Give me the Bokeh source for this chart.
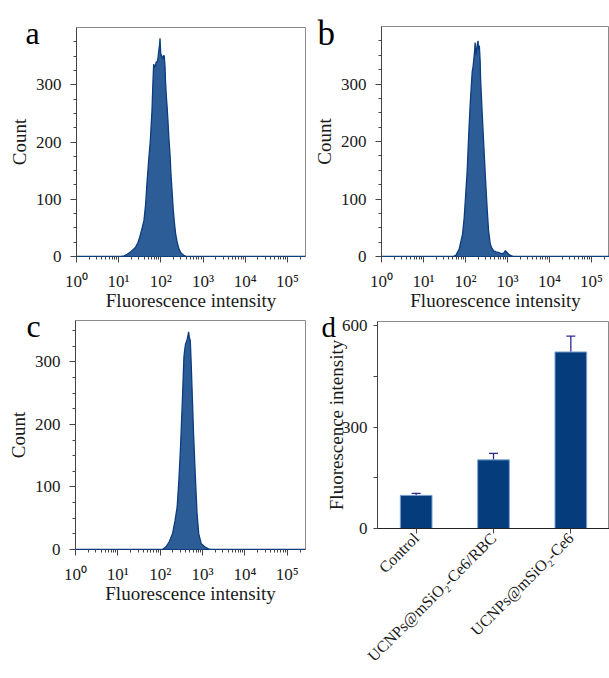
import numpy as np
from bokeh.plotting import figure
from bokeh.layouts import row, column
from bokeh.models import (FixedTicker, CustomJSTickFormatter, Label, Range1d,
                          FactorRange, Whisker, TeeHead, ColumnDataSource, GridBox)
from bokeh.embed import file_html
from bokeh.resources import INLINE

# ---------------- data ----------------
# histogram a (log10 fluorescence intensity, count)
a_log = [0.0, 1.05, 1.13, 1.20, 1.28, 1.34, 1.40, 1.46, 1.50, 1.54, 1.56, 1.60, 1.64, 1.67, 1.71,
         1.75, 1.79, 1.81, 1.83, 1.85, 1.87, 1.89, 1.91, 1.93, 1.95, 1.97, 1.98, 2.00, 2.01, 2.03,
         2.04, 2.06, 2.08, 2.10, 2.11, 2.13, 2.15, 2.17, 2.19, 2.22, 2.24, 2.27, 2.29, 2.32, 2.35,
         2.39, 2.43, 2.48, 2.54, 2.62, 5.43]
a_cnt = [0, 0, 1, 4, 8, 12, 16, 25, 34, 45, 51, 63, 92, 127, 167,
         202, 255, 300, 336, 330, 333, 340, 339, 345, 359, 370, 381, 350, 353, 348,
         345, 350, 351, 330, 307, 280, 260, 235, 208, 175, 144, 110, 86, 60, 40,
         24, 13, 6, 2, 0, 0]

b_log = [0.0, 1.70, 1.77, 1.85, 1.93, 1.97, 2.00, 2.04, 2.08, 2.12, 2.16, 2.18, 2.20, 2.22, 2.23,
         2.25, 2.26, 2.28, 2.30, 2.31, 2.33, 2.35, 2.36, 2.40, 2.44, 2.48, 2.52, 2.55, 2.59, 2.63,
         2.67, 2.73, 2.79, 2.85, 2.91, 2.95, 2.99, 3.03, 3.07, 3.15, 5.43]
b_cnt = [0, 0, 2, 13, 39, 68, 102, 148, 217, 275, 321, 330, 344, 360, 372,
         350, 355, 368, 375, 360, 367, 340, 309, 246, 188, 131, 79, 45, 22, 14,
         10, 8, 7, 5, 6, 10, 7, 4, 2, 0, 0]

c_log = [0.0, 2.05, 2.13, 2.21, 2.29, 2.35, 2.40, 2.44, 2.48, 2.52, 2.56, 2.58, 2.60, 2.63, 2.65,
         2.67, 2.69, 2.71, 2.73, 2.75, 2.79, 2.83, 2.87, 2.91, 2.97, 3.06, 3.14, 3.20, 5.43]
c_cnt = [0, 0, 4, 12, 25, 46, 68, 110, 164, 233, 308, 320, 329, 334, 340,
         348, 338, 334, 300, 260, 180, 116, 57, 25, 9, 4, 1, 0, 0]

x_major = [1, 10, 100, 1000, 10000, 100000]
y_major_hist = [0, 100, 200, 300]

# bar chart d
groups = ["Control", "UCNPs@mSiO\u2082-Ce6/RBC", "UCNPs@mSiO\u2082-Ce6"]
means = [98, 203, 522]
errs = [6, 19, 47]
y_major_bar = [0, 300, 600]

panel_letters = ["a", "b", "c", "d"]

# ---------------- style ----------------
FONT = "Liberation Serif"
FILL = "#2d5d97"
EDGE = "#0c3d7e"
TXT = "#1a1a1a"

H1 = 313
H2 = 362


def no_align(p):
    if "frame_align" in p.properties():
        p.frame_align = False


def style_axes(p):
    for ax in (p.xaxis[0], p.yaxis[0]):
        ax.major_label_text_font = FONT
        ax.major_label_text_font_size = "17px"
        ax.major_label_text_color = TXT
        ax.axis_label_text_font = FONT
        ax.axis_label_text_font_size = "19px"
        ax.axis_label_text_font_style = "normal"
        ax.axis_label_text_color = TXT
        ax.axis_line_color = "#444444"
        ax.major_tick_line_color = "#444444"
        ax.minor_tick_line_color = "#444444"
        ax.major_tick_in = 0
        ax.major_tick_out = 6
        ax.minor_tick_in = 0
        ax.minor_tick_out = 3
    p.outline_line_color = "#8a8a8a"
    p.outline_line_width = 1
    p.grid.visible = False
    p.background_fill_color = "white"
    p.border_fill_color = "white"
    no_align(p)


def hist_panel(logs, cnts, ymax, width, height, bl, br, bt, bb):
    xs = np.power(10.0, np.array(logs))
    p = figure(width=width, height=height, x_axis_type="log",
               x_range=Range1d(1, 10 ** 5.43), y_range=Range1d(0, ymax),
               output_backend="svg", toolbar_location=None,
               min_border_left=bl, min_border_right=br,
               min_border_top=bt, min_border_bottom=bb)
    p.varea(x=xs, y1=0, y2=cnts, fill_color=FILL, fill_alpha=1.0)
    p.line(x=xs, y=cnts, line_color=EDGE, line_width=1.3)
    minors = [k * 10 ** d for d in range(0, 6) for k in range(2, 10)]
    p.xaxis.ticker = FixedTicker(ticks=x_major, minor_ticks=minors)
    p.xaxis.formatter = CustomJSTickFormatter(code="""
        const sup = ["\u2070","\u00b9","\u00b2","\u00b3","\u2074","\u2075"];
        const e = Math.round(Math.log10(tick));
        return "10" + sup[e];
    """)
    ymin = [v for v in range(25, int(ymax) + 1, 25) if v % 100 != 0]
    p.yaxis.ticker = FixedTicker(ticks=y_major_hist, minor_ticks=ymin)
    p.xaxis.axis_label = "Fluorescence intensity"
    p.yaxis.axis_label = "Count"
    style_axes(p)
    p.xaxis.axis_line_color = EDGE
    p.xaxis.major_label_standoff = 9
    p.xaxis.axis_label_standoff = -4
    p.yaxis.major_label_standoff = 9
    p.yaxis.axis_label_standoff = 3
    return p


pa = hist_panel(a_log, a_cnt, 400, 310, H1, 76, 5, 27, H1 - 27 - 229)
pb = hist_panel(b_log, b_cnt, 400, 299, H1, 70, 0, 26, H1 - 26 - 230)
pc = hist_panel(c_log, c_cnt, 366, 310, H2, 75, 5, 7, H2 - 7 - 229)

# ---------------- bar panel d ----------------
src = ColumnDataSource(dict(g=groups, m=means, up=[m + e for m, e in zip(means, errs)]))
pd_ = figure(width=299, height=H2, x_range=FactorRange(*groups, range_padding=0),
             y_range=Range1d(0, 612), output_backend="svg", toolbar_location=None,
             min_border_left=67, min_border_right=0, min_border_top=8,
             min_border_bottom=H2 - 8 - 207)
pd_.vbar(x="g", top="m", width=0.41, source=src, fill_color="#053c7c",
         line_color="#7da6d6", line_width=1)
pd_.add_layout(Whisker(base="g", lower="m", upper="up", source=src,
                       line_color="#2a2a90", line_width=1.3,
                       upper_head=TeeHead(size=9, line_color="#2a2a90", line_width=1.3),
                       lower_head=None))
pd_.yaxis.ticker = FixedTicker(ticks=y_major_bar, minor_ticks=[150, 450])
pd_.yaxis.axis_label = "Fluorescence intensity"
style_axes(pd_)
pd_.xaxis.major_label_orientation = np.pi / 4
pd_.xaxis.major_label_text_font_size = "16px"
pd_.xaxis.major_label_standoff = 2
pd_.xaxis.major_tick_out = 5
pd_.xaxis.axis_line_color = "#222222"
pd_.yaxis.major_label_standoff = 6
pd_.yaxis.axis_label_standoff = -8
pd_.yaxis.minor_tick_out = 4
pd_.yaxis.major_tick_out = 4

main = column(row(pa, pb), row(pc, pd_))

# ---------------- transparent overlay for panel letters ----------------
W, H = 609, H1 + H2
ov = figure(width=W, height=H, x_range=Range1d(0, W), y_range=Range1d(H, 0),
            output_backend="svg", toolbar_location=None,
            x_axis_location=None, y_axis_location=None,
            min_border_left=0, min_border_right=0, min_border_top=0, min_border_bottom=0)
ov.grid.visible = False
ov.outline_line_color = None
ov.background_fill_color = None
ov.border_fill_color = None
no_align(ov)
for letter, lx, ly, fs in zip(panel_letters, [25, 317, 26, 321], [32, 33, 325, 326],
                              ["32px", "35px", "32px", "29px"]):
    ov.add_layout(Label(x=lx, y=ly, text=letter, text_align="left",
                        text_baseline="alphabetic", text_font=FONT,
                        text_font_size=fs, text_color="black"))

layout = GridBox(children=[(main, 0, 0), (ov, 0, 0)])
open("out.html", "w").write(file_html(layout, INLINE))
